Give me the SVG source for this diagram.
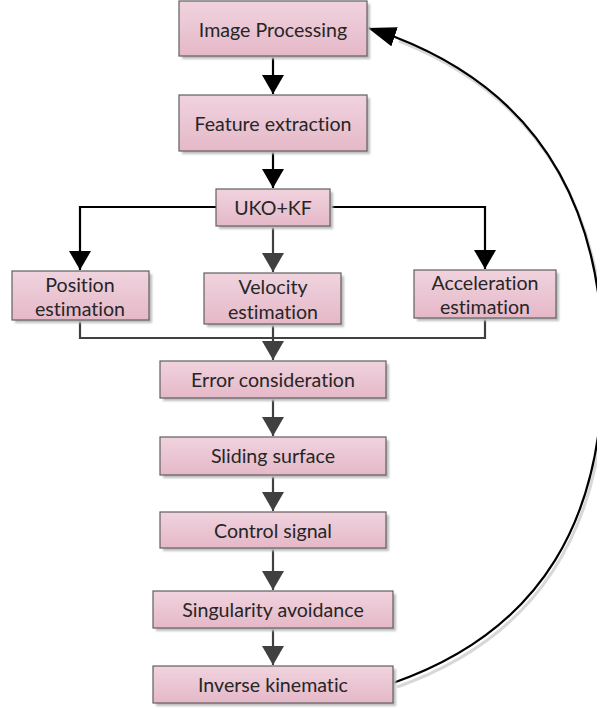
<svg xmlns="http://www.w3.org/2000/svg" width="597" height="708" viewBox="0 0 597 708">
<style>
.box{fill:url(#pink);stroke:#5f5f5f;stroke-width:1.2}
.sh{fill:#bdbdbd;filter:url(#blur)}
.t{font-family:Lato,"Liberation Sans",sans-serif;font-size:19.6px;fill:#262626;text-anchor:middle;dominant-baseline:central;font-variant-ligatures:none;font-feature-settings:"liga" 0,"dlig" 0}
.k{fill:none;stroke:#000;stroke-width:2.2}
.g{fill:none;stroke:#404040;stroke-width:2.2}
</style>
<defs>
<linearGradient id="pink" x1="0" y1="0" x2="0" y2="1">
<stop offset="0" stop-color="#f0d3de"/>
<stop offset="1" stop-color="#e5b8c8"/>
</linearGradient>
<filter id="blur" x="-10%" y="-20%" width="120%" height="140%"><feGaussianBlur stdDeviation="1.2"/></filter>
<marker id="ak" markerUnits="userSpaceOnUse" markerWidth="20" markerHeight="24" refX="19" refY="11" orient="auto"><path d="M0,0 L19,11 L0,22 Z" fill="#000"/></marker>
<marker id="ag" markerUnits="userSpaceOnUse" markerWidth="20" markerHeight="24" refX="19" refY="11" orient="auto"><path d="M0,0 L19,11 L0,22 Z" fill="#404040"/></marker>
<marker id="af" markerUnits="userSpaceOnUse" markerWidth="30" markerHeight="22" refX="28" refY="10" orient="auto"><path d="M0,0 L28,10 L0,20 Z" fill="#000"/></marker>
</defs>

<g id="connectors">
<path class="k" d="M273,56 V94" marker-end="url(#ak)"/>
<path class="k" d="M273,151 V188" marker-end="url(#ak)"/>
<path class="k" d="M216,207 H80 V270" marker-end="url(#ak)"/>
<path class="k" d="M330,207 H485 V269" marker-end="url(#ak)"/>
<path class="g" d="M273,226 V272" marker-end="url(#ag)"/>
<path class="g" d="M80,320 V338 H485 V318"/>
<path class="g" d="M273,324 V360" marker-end="url(#ag)"/>
<path class="g" d="M273,398 V436" marker-end="url(#ag)"/>
<path class="g" d="M273,475 V511" marker-end="url(#ag)"/>
<path class="g" d="M273,548 V590" marker-end="url(#ag)"/>
<path class="g" d="M273,628 V665" marker-end="url(#ag)"/>
<path d="M395,685 C545,632 603,517 603,367 C603,217 545,97 397,39" fill="none" stroke="#d8d8d8" stroke-width="3" transform="translate(2,2)"/>
<path class="k" d="M393,683 C545,630 603,515 603,365 C603,215 545,95 395,37 L368,28" marker-end="url(#af)"/>
</g>

<g id="n1"><rect class="sh" x="182" y="4" width="188" height="55"/><rect class="box" x="179" y="1" width="188" height="55"/><text class="t" x="273" y="29">Image Processing</text></g>
<g id="n2"><rect class="sh" x="182" y="98" width="188" height="56"/><rect class="box" x="179" y="95" width="188" height="56"/><text class="t" x="273" y="123">Feature extraction</text></g>
<g id="n3"><rect class="sh" x="219" y="192" width="114" height="37"/><rect class="box" x="216" y="189" width="114" height="37"/><text class="t" x="273" y="207">UKO+KF</text></g>
<g id="n4"><rect class="sh" x="15" y="274" width="137" height="49"/><rect class="box" x="12" y="271" width="137" height="49"/><text class="t" x="80" y="284">Position</text><text class="t" x="80" y="308">estimation</text></g>
<g id="n5"><rect class="sh" x="207" y="276" width="137" height="51"/><rect class="box" x="204" y="273" width="137" height="51"/><text class="t" x="273" y="286">Velocity</text><text class="t" x="273" y="311">estimation</text></g>
<g id="n6"><rect class="sh" x="417" y="273" width="142" height="48"/><rect class="box" x="414" y="270" width="142" height="48"/><text class="t" x="485" y="282">Acceleration</text><text class="t" x="485" y="306">estimation</text></g>
<g id="n7"><rect class="sh" x="163" y="364" width="226" height="37"/><rect class="box" x="160" y="361" width="226" height="37"/><text class="t" x="273" y="379">Error consideration</text></g>
<g id="n8"><rect class="sh" x="163" y="440" width="226" height="38"/><rect class="box" x="160" y="437" width="226" height="38"/><text class="t" x="273" y="455">Sliding surface</text></g>
<g id="n9"><rect class="sh" x="163" y="515" width="226" height="36"/><rect class="box" x="160" y="512" width="226" height="36"/><text class="t" x="273" y="530">Control signal</text></g>
<g id="n10"><rect class="sh" x="156" y="594" width="240" height="37"/><rect class="box" x="153" y="591" width="240" height="37"/><text class="t" x="273" y="609">Singularity avoidance</text></g>
<g id="n11"><rect class="sh" x="156" y="669" width="240" height="37"/><rect class="box" x="153" y="666" width="240" height="37"/><text class="t" x="273" y="684">Inverse kinematic</text></g>
</svg>
